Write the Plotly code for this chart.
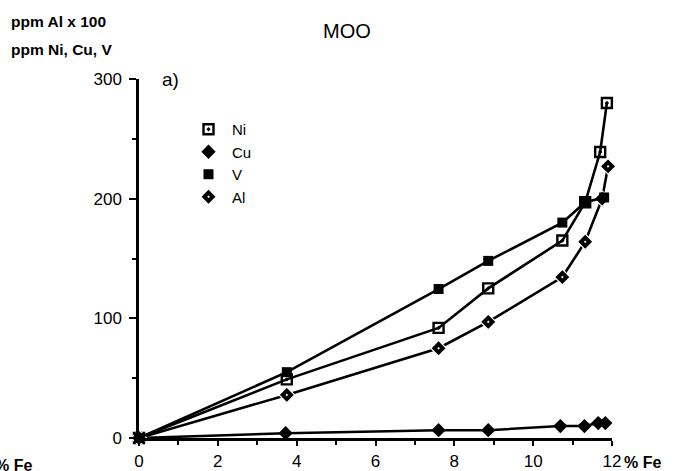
import plotly.graph_objects as go

# Data
fe_ni = [0, 3.75, 7.6, 8.86, 10.74, 11.32, 11.7, 11.87]
ni = [0, 49, 92, 125, 165, 197, 239, 280]

fe_cu = [0, 3.72, 7.6, 8.86, 10.69, 11.3, 11.65, 11.83]
cu = [0, 4, 6.5, 6.5, 10, 10, 12.5, 12.5]

fe_v = [0, 3.75, 7.6, 8.86, 10.74, 11.32, 11.8]
v = [0, 55, 124.5, 148, 180, 197, 201]

fe_al = [0, 3.75, 7.6, 8.86, 10.74, 11.32, 11.75, 11.9]
al = [0, 36, 75, 97, 134.5, 164, 200, 227]

x_ticks = [0, 2, 4, 6, 8, 10, 12]
y_ticks = [0, 100, 200, 300]

FONT = "Liberation Sans"

styles = {
    "Ni": dict(symbol="square-open-dot", size=10, color="black", line=dict(width=2.4, color="black")),
    "Cu": dict(symbol="diamond", size=11, color="black", line=dict(width=0)),
    "V": dict(symbol="square", size=10, color="black", line=dict(width=0)),
    "Al": dict(symbol="diamond-dot", size=12, color="black", line=dict(width=1.2, color="white")),
}
data = {"Ni": (fe_ni, ni), "Cu": (fe_cu, cu), "V": (fe_v, v), "Al": (fe_al, al)}

fig = go.Figure()
# drawing order (V on top), legend order separately
for name in ["Ni", "Cu", "Al", "V"]:
    xs, ys = data[name]
    fig.add_trace(go.Scatter(
        x=xs, y=ys, mode="lines+markers", name=name, showlegend=False,
        line=dict(color="black", width=2.6), marker=styles[name], cliponaxis=False,
    ))
for name in ["Ni", "Cu", "V", "Al"]:
    fig.add_trace(go.Scatter(
        x=[None], y=[None], mode="markers", name=name, showlegend=True, marker=styles[name],
    ))

L, T, W, H = 139, 79, 473, 359

fig.update_layout(
    width=679, height=471,
    margin=dict(l=L, r=679 - L - W, t=T, b=471 - T - H),
    paper_bgcolor="white", plot_bgcolor="white",
    font=dict(family=FONT, color="black", size=16),
    showlegend=True,
    legend=dict(
        x=(185 - L) / W, y=1 - (113 - T) / H, xanchor="left", yanchor="top",
        font=dict(family=FONT, size=15, color="black"),
        bgcolor="rgba(0,0,0,0)", itemwidth=37, tracegroupgap=0,
    ),
    xaxis=dict(
        range=[0, 12], showgrid=False, zeroline=False, automargin=False,
        showline=True, linecolor="black", linewidth=2.5,
        ticks="outside", ticklen=5, tickwidth=2, tickcolor="black",
        tickvals=x_ticks, ticktext=[str(t) for t in x_ticks],
        tickfont=dict(family=FONT, size=17, color="black"),
        ticklabelstandoff=1,
        minor=dict(dtick=1, ticks="outside", ticklen=4, tickwidth=2, tickcolor="black"),
    ),
    yaxis=dict(
        range=[0, 300], showgrid=False, zeroline=False, automargin=False,
        showline=True, linecolor="black", linewidth=2.5,
        ticks="outside", ticklen=7, tickwidth=2, tickcolor="black",
        tickvals=y_ticks, ticktext=[str(t) for t in y_ticks],
        tickfont=dict(family=FONT, size=17, color="black"),
        ticklabelstandoff=4,
        minor=dict(dtick=50, ticks="outside", ticklen=4, tickwidth=2, tickcolor="black"),
    ),
    annotations=[
        dict(text="MOO", xref="paper", yref="paper", x=(347 - L) / W, y=1 + (T - 31) / H,
             xanchor="center", yanchor="middle", showarrow=False, font=dict(size=20, family=FONT)),
        dict(text="<b>ppm Al x 100</b>", xref="paper", yref="paper", x=(9 - L) / W, y=1 + (T - 22) / H,
             xanchor="left", yanchor="middle", showarrow=False, font=dict(size=15.5, family=FONT)),
        dict(text="<b>ppm Ni, Cu, V</b>", xref="paper", yref="paper", x=(9 - L) / W, y=1 + (T - 50) / H,
             xanchor="left", yanchor="middle", showarrow=False, font=dict(size=15.5, family=FONT)),
        dict(text="a)", xref="paper", yref="paper", x=(160 - L) / W, y=1 + (T - 80) / H,
             xanchor="left", yanchor="middle", showarrow=False, font=dict(size=19, family=FONT)),
        dict(text="<b>% Fe</b>", xref="paper", yref="paper", x=(622 - L) / W, y=-(462 - 438) / H,
             xanchor="left", yanchor="middle", showarrow=False, font=dict(size=16, family=FONT)),
        dict(text="<b>% Fe</b>", xref="paper", yref="paper", x=(-7 - L) / W, y=-(465 - 438) / H,
             xanchor="left", yanchor="middle", showarrow=False, font=dict(size=16, family=FONT)),
    ],
)

fig.write_html(
    "out.html",
    config={"displayModeBar": False},
    post_script="document.body.style.margin='0';document.body.style.overflow='hidden';",
)
